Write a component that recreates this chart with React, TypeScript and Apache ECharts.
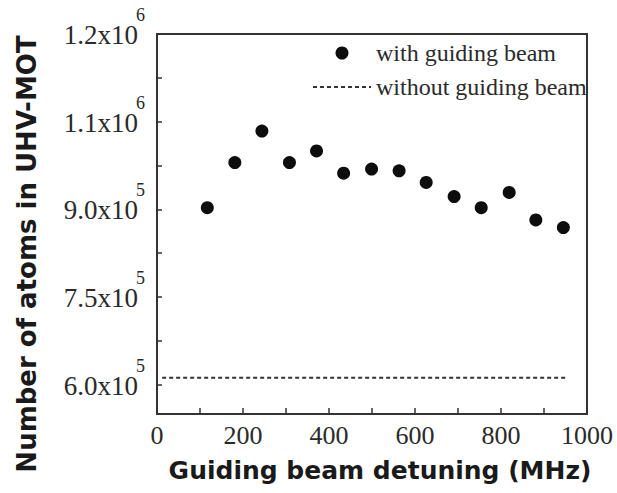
import React, { useEffect, useRef } from "react";
import * as echarts from "echarts";

// Guiding beam detuning (MHz)
const detuning = [117, 181, 244, 308, 371, 434, 499, 563, 626, 691, 754, 819, 881, 945];
// Number of atoms with guiding beam
const atomsWithBeam = [903000, 980000, 1034000, 980000, 1000000, 962000, 969000, 966000, 946000, 922000, 903000, 929000, 882000, 869000];
// Without guiding beam (constant level)
const withoutBeamX = [12, 952];
const withoutBeamY = [612000, 612000];

const xTickLabels = [0, 200, 400, 600, 800, 1000];
const xMinorTicks = [0, 100, 200, 300, 400, 500, 600, 700, 800, 900, 1000];
const yTickValues = [600000, 750000, 900000, 1050000, 1200000];
const yTickMantissas = ["6.0", "7.5", "9.0", "1.1", "1.2"];
const yTickExponents = ["5", "5", "5", "6", "6"];
const yMinorTicks = [600000, 675000, 750000, 825000, 900000, 975000, 1050000, 1125000, 1200000];

const seriesNames = ["with guiding beam", "without guiding beam"];

export default function App() {
  const ref = useRef<HTMLDivElement>(null);
  useEffect(() => {
    if (!ref.current) return;
    const chart = echarts.init(ref.current, undefined, { renderer: "svg" });
    const textColor = "#2a2a2a";
    chart.setOption({
      animation: false,
      backgroundColor: "#ffffff",
      grid: {
        left: 157,
        right: 30,
        top: 34,
        bottom: 79,
        show: true,
        borderColor: "#333",
        borderWidth: 2,
        backgroundColor: "transparent",
      },
      xAxis: {
        type: "value",
        min: 0,
        max: 1000,
        interval: 200,
        axisLine: { show: false },
        splitLine: { show: false },
        axisTick: {
          show: true,
          inside: true,
          length: 6,
          customValues: xMinorTicks,
          lineStyle: { color: "#333", width: 1.5 },
        },
        axisLabel: {
          customValues: xTickLabels,
          margin: 8,
          formatter: (v: number) => String(v),
          fontFamily: "Liberation Serif",
          fontSize: 26,
          color: textColor,
        },
      },
      yAxis: {
        type: "value",
        min: 550000,
        max: 1200000,
        axisLine: { show: false },
        splitLine: { show: false },
        axisTick: {
          show: true,
          inside: true,
          length: 5,
          customValues: yMinorTicks,
          lineStyle: { color: "#333", width: 1.5 },
        },
        axisLabel: {
          customValues: yTickValues,
          margin: 12,
          formatter: (v: number) => {
            const i = yTickValues.indexOf(v);
            if (i < 0) return "";
            return `{e|${yTickExponents[i]}}\n{m|${yTickMantissas[i]}x10}`;
          },
          rich: {
            m: {
              fontFamily: "Liberation Serif",
              fontSize: 27,
              lineHeight: 38,
              color: textColor,
              align: "right",
              padding: [0, 7, 0, 0],
            },
            e: {
              fontFamily: "Liberation Serif",
              fontSize: 18,
              lineHeight: 2,
              color: textColor,
              align: "right",
            },
          },
        },
      },
      legend: {
        orient: "vertical",
        left: 307,
        top: 35,
        itemWidth: 58,
        itemHeight: 13,
        itemGap: 8,
        data: [
          { name: seriesNames[0], icon: "circle" },
          {
            name: seriesNames[1],
            itemStyle: { color: "rgba(0,0,0,0)", borderWidth: 0, opacity: 0 },
          },
        ],
        textStyle: {
          fontFamily: "Liberation Serif",
          fontSize: 24,
          lineHeight: 22,
          color: textColor,
          padding: [4, 0, 0, 0],
        },
      },
      series: [
        {
          name: seriesNames[0],
          type: "scatter",
          symbol: "circle",
          symbolSize: 13,
          itemStyle: { color: "#0d0d0d", opacity: 1 },
          data: detuning.map((x, i) => [x, atomsWithBeam[i]]),
        },
        {
          name: seriesNames[1],
          type: "line",
          symbol: "none",
          lineStyle: { color: "#333", width: 1.8, type: [4, 3] },
          itemStyle: { color: "#333" },
          data: withoutBeamX.map((x, i) => [x, withoutBeamY[i]]),
        },
      ],
      graphic: [
        {
          type: "text",
          x: 27,
          y: 254,
          rotation: Math.PI / 2,
          style: {
            text: "Number of atoms in UHV-MOT",
            fontFamily: "DejaVu Sans",
            fontWeight: "bold",
            fontSize: 26,
            fill: "#1a1a1a",
            align: "center",
            verticalAlign: "middle",
          },
        },
        {
          type: "text",
          x: 380,
          y: 470,
          style: {
            text: "Guiding beam detuning (MHz)",
            fontFamily: "DejaVu Sans",
            fontWeight: "bold",
            fontSize: 25,
            fill: "#1a1a1a",
            align: "center",
            verticalAlign: "middle",
          },
        },
      ],
    });
    return () => chart.dispose();
  }, []);
  return (
    <div
      ref={ref}
      style={{ position: "absolute", left: 0, top: 0, width: 617, height: 493 }}
    />
  );
}
